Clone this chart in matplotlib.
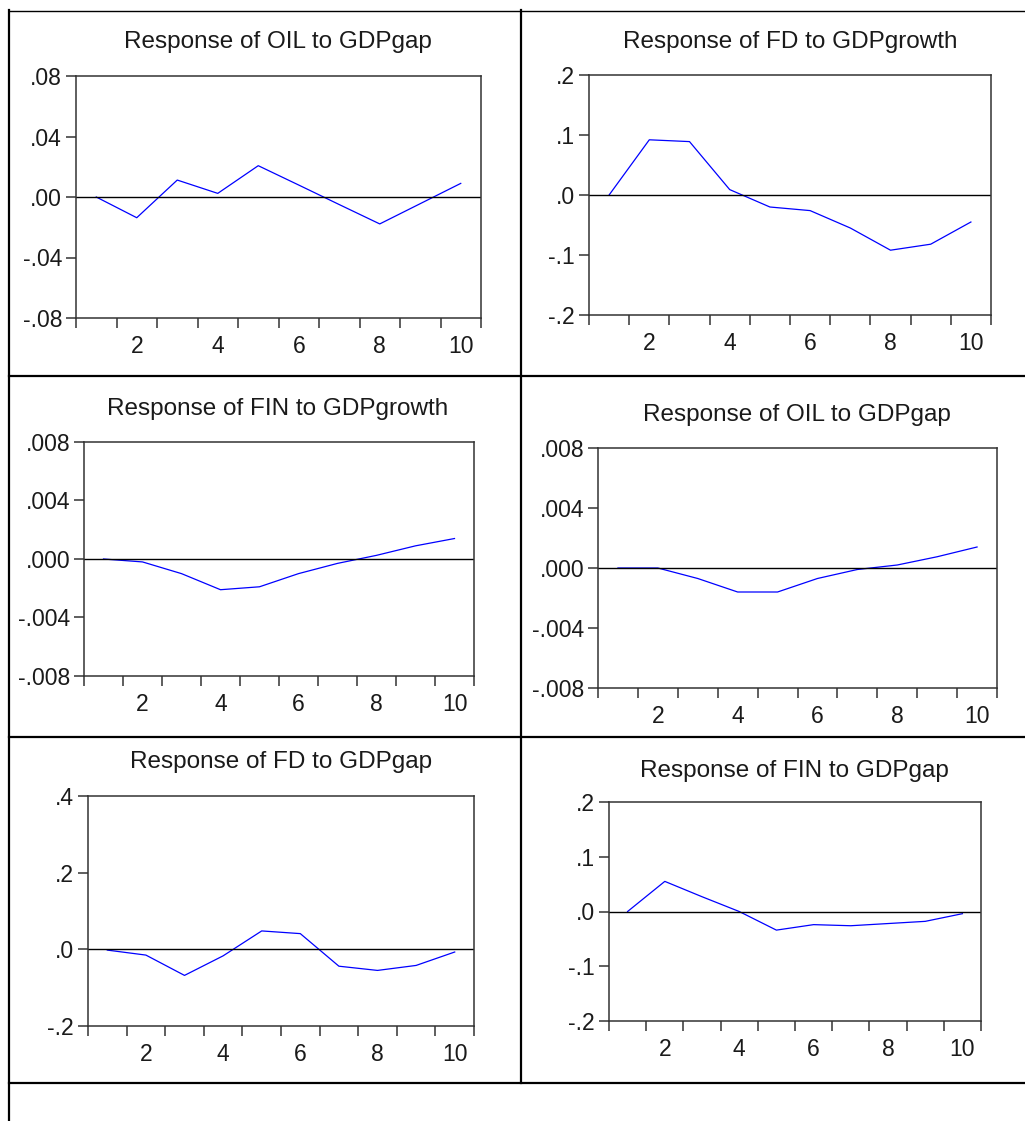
import numpy as np
import matplotlib
matplotlib.use("Agg")
import matplotlib.pyplot as plt

plt.rcParams['font.family'] = ['Liberation Sans', 'DejaVu Sans']

W, H = 1025, 1121

# impulse responses, periods 1..10
periods = np.arange(1, 11)
oil_gdpgap = [0.0, -0.0137, 0.0112, 0.0024, 0.0207, 0.0079, -0.0050, -0.0178, -0.0044, 0.0090]
fd_gdpgrowth = [0.0, 0.092, 0.089, 0.009, -0.020, -0.026, -0.055, -0.092, -0.082, -0.045]
fin_gdpgrowth = [0.0, -0.0002, -0.0010, -0.0021, -0.0019, -0.0010, -0.0003, 0.00025, 0.0009, 0.0014]
oil_gdpgap_small = [0.0, 0.0, -0.0007, -0.0016, -0.0016, -0.0007, -0.0001, 0.0002, 0.00075, 0.0014]
fd_gdpgap = [-0.002, -0.015, -0.068, -0.017, 0.048, 0.041, -0.044, -0.055, -0.042, -0.007]
fin_gdpgap = [0.0, 0.055, 0.027, 0.0, -0.034, -0.024, -0.026, -0.022, -0.018, -0.004]

titles = ["Response of OIL to GDPgap", "Response of FD to GDPgrowth",
          "Response of FIN to GDPgrowth", "Response of OIL to GDPgap",
          "Response of FD to GDPgap", "Response of FIN to GDPgap"]
series = [oil_gdpgap, fd_gdpgrowth, fin_gdpgrowth, oil_gdpgap_small, fd_gdpgap, fin_gdpgap]
yticks = [[-0.08, -0.04, 0.0, 0.04, 0.08],
          [-0.2, -0.1, 0.0, 0.1, 0.2],
          [-0.008, -0.004, 0.0, 0.004, 0.008],
          [-0.008, -0.004, 0.0, 0.004, 0.008],
          [-0.2, 0.0, 0.2, 0.4],
          [-0.2, -0.1, 0.0, 0.1, 0.2]]
decimals = [2, 1, 3, 3, 1, 1]
xlabels = [2, 4, 6, 8, 10]

# axes boxes in pixels: left, right, top, bottom ; title centre x, y
boxes = [(76, 481, 76, 318, 278, 42),
         (589, 991, 75, 315, 790, 42),
         (84, 474, 442, 676, 278, 409),
         (598, 997, 448, 688, 797, 415),
         (88, 474, 796, 1026, 281, 762),
         (609, 981, 802, 1021, 794, 771)]

fig = plt.figure(figsize=(W / 100, H / 100), dpi=100)

# table grid behind the charts
bg = fig.add_axes([0, 0, 1, 1], zorder=-1)
bg.set_xlim(0, W)
bg.set_ylim(H, 0)
bg.axis('off')
bg.plot([9, 1025], [11, 11], color='black', lw=1.0)
for yy in [376, 737, 1083]:
    bg.plot([9, 1025], [yy, yy], color='black', lw=1.6)
bg.plot([9, 9], [10, 1121], color='black', lw=1.6)
bg.plot([521, 521], [10, 1083], color='black', lw=1.6)


def fmt(v, d):
    s = f"{v:.{d}f}"
    return s.replace("0.", ".", 1)


for i in range(6):
    l, r, t, b, tx, ty = boxes[i]
    ax = fig.add_axes([l / W, 1 - b / H, (r - l) / W, (b - t) / H])
    ax.plot(periods, series[i], color='#0000ff', lw=0.9)
    ax.axhline(0, color='black', lw=1.0)
    ax.set_xlim(0.5, 10.5)
    ax.set_ylim(yticks[i][0], yticks[i][-1])
    ax.set_yticks(yticks[i])
    ax.set_yticklabels([fmt(v, decimals[i]) for v in yticks[i]])
    ax.set_xticks(np.arange(0.5, 11, 1.0))
    ax.set_xticklabels([])
    ax.set_xticks(xlabels, minor=True)
    ax.set_xticklabels([str(v) for v in xlabels], minor=True)
    ax.tick_params(axis='x', which='major', direction='out', length=7, width=1.1, color='#333333')
    ax.tick_params(axis='x', which='minor', length=0, pad=12, labelsize=16.5, labelcolor='#1a1a1a')
    ax.tick_params(axis='y', direction='out', length=7, width=1.1, color='#333333',
                   pad=3, labelsize=16.5, labelcolor='#1a1a1a')
    for sp in ax.spines.values():
        sp.set_color('#333333')
        sp.set_linewidth(1.1)
    fig.text(tx / W, 1 - ty / H, titles[i], ha='center', va='center',
             fontsize=17.5, color='#1a1a1a')

fig.savefig("out.png", dpi=100)
plt.close()
